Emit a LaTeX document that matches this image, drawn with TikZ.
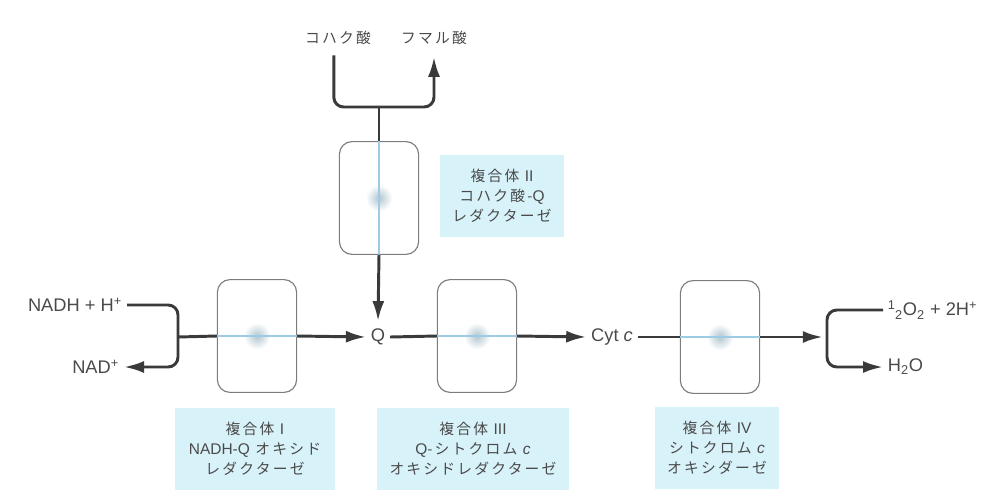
\documentclass[tikz,border=0pt]{standalone}
\usepackage{fontspec}
\setmainfont{Liberation Sans}
\newfontfamily\jp[LetterSpace=15]{Noto Sans CJK JP}
\usetikzlibrary{arrows.meta}
\definecolor{ink}{HTML}{4A4A4A}
\definecolor{wire}{HTML}{3A3A3A}
\definecolor{frame}{HTML}{7C7C7C}
\definecolor{memb}{HTML}{9CCBE3}
\definecolor{tag}{HTML}{D8F2FA}
\newcommand\lat[1]{{\rmfamily\fontsize{11}{14.2}\selectfont #1}}
\tikzset{
  >={Latex[length=5mm,width=3mm]},
}
\tikzstyle{flow}=[line width=2.1pt,draw=wire]
\tikzstyle{membrane}=[line width=1.4pt,draw=memb]
\tikzstyle{cplx}=[draw=frame,line width=0.8pt,rounded corners=9pt,minimum width=1.98cm,minimum height=2.82cm,inner sep=0pt]
\tikzstyle{tagbox}=[fill=tag,align=center,minimum height=2.05cm,inner sep=0pt,font=\jp\fontsize{10.5}{14.2}\selectfont]
\tikzstyle{every node}=[text=ink,font=\fontsize{13}{15}\selectfont]

\begin{document}
\begin{tikzpicture}[x=0.025cm,y=-0.025cm]
    \useasboundingbox (0,0) rectangle (1002,502);
    % complexes
    \node[cplx] (c1) at (257,336) {};
    \node[cplx] (c2) at (379,198) {};
    \node[cplx] (c3) at (477,336) {};
    \node[cplx] (c4) at (720,337) {};
    \foreach \c in {c1,c2,c3,c4}
      \shade[inner color=gray!40!memb!70,outer color=white] (\c) circle (0.33cm);
    % carriers and substrates
    \node (q) at (378,337) {Q};
    \node (cyt) at (612,337) {Cyt \textit{c}};
    \node[anchor=east] (nadh) at (127,305) {NADH + H\textsuperscript{+}};
    \node[anchor=east] (nad) at (124,367) {NAD\textsuperscript{+}};
    \node[anchor=west] (ox) at (883,310) {\textsuperscript{1}\kern-0.5pt\textsubscript{2}O\textsubscript{2} + 2H\textsuperscript{+}};
    \node[anchor=west] (h2o) at (883,367) {H\textsubscript{2}O};
    \node[font=\jp\fontsize{10.5}{14}\selectfont] (suc) at (338,38) {コハク酸};
    \node[font=\jp\fontsize{10.5}{14}\selectfont] (fum) at (434,38) {フマル酸};
    \coordinate (j1) at (178,337);
    \coordinate (j2) at (379,107);
    \coordinate (j4) at (827,337);
    % labels
    \node[tagbox,minimum width=4cm] (t1) at (255,449) {複合体 \lat{I}\\\lat{NADH-Q} オキシド\\レダクターゼ};
    \node[tagbox,minimum width=3.12cm] (t2) at (502,196) {複合体 \lat{II}\\コハク酸-\lat{Q}\\レダクターゼ};
    \node[tagbox,minimum width=4.78cm] (t3) at (473,449) {複合体 \lat{III}\\\lat{Q}-シトクロム \lat{\itshape c}\\オキシドレダクターゼ};
    \node[tagbox,minimum width=3.12cm] (t4) at (717,448) {複合体 \lat{IV}\\シトクロム \lat{\itshape c}\\オキシダーゼ};
    % electron flow
    \draw[flow,->,rounded corners=7pt] ([xshift=-3pt,yshift=-4pt]suc.south) |- (j2) -| ([yshift=-5pt]fum.south);
    \draw[flow] (j2) -- (c2.north);
    \draw[membrane] (c2.north) -- (c2.south);
    \draw[flow,->] (c2.south) -- ([yshift=2pt]q.north);
    \draw[flow,->,rounded corners=7pt] (nadh.east) -| (j1) |- (nad.east);
    \draw[flow] (j1) -- (c1.west);
    \draw[membrane] (c1.west) -- (c1.east);
    \draw[flow,->] (c1.east) -- (q.west);
    \draw[flow] (q.east) -- (c3.west);
    \draw[membrane] (c3.west) -- (c3.east);
    \draw[flow,->] (c3.east) -- (cyt.west);
    \draw[flow] (cyt.east) -- (c4.west);
    \draw[membrane] (c4.west) -- (c4.east);
    \draw[flow,->] (c4.east) -- ([xshift=-3pt]j4);
    \draw[flow,->,rounded corners=7pt] (ox.west) -| (j4) |- (h2o.west);
  \end{tikzpicture}
\end{document}
